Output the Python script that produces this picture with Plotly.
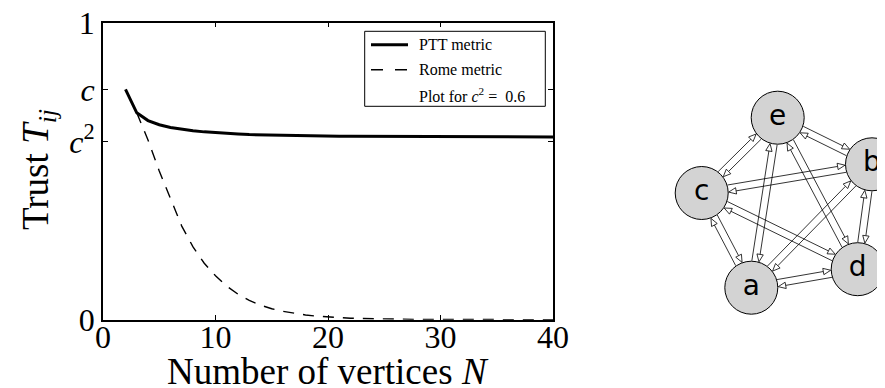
import math
import itertools
import plotly.graph_objects as go

# ---------------- data ----------------
c2 = 0.6
c = math.sqrt(c2)

ptt_N = list(range(2, 41))
ptt_T = [0.775, 0.696, 0.670, 0.656, 0.647, 0.641, 0.636, 0.632, 0.629, 0.627,
         0.625, 0.623, 0.622, 0.621, 0.620, 0.619, 0.619, 0.618, 0.618, 0.617,
         0.617, 0.617, 0.617, 0.617, 0.616, 0.616, 0.616, 0.616, 0.616, 0.616,
         0.616, 0.615, 0.615, 0.615, 0.615, 0.615, 0.615, 0.615, 0.615]

rome_N = list(range(3, 41))
rome_T = [0.696, 0.605, 0.500, 0.405, 0.315, 0.245, 0.190, 0.148, 0.113, 0.086,
          0.065, 0.049, 0.037, 0.028, 0.021, 0.016, 0.012, 0.009, 0.007, 0.005,
          0.004, 0.003, 0.002, 0.002, 0.001, 0.001, 0.001, 0.001, 0.000, 0.000,
          0.000, 0.000, 0.000, 0.000, 0.000, 0.000, 0.000, 0.000]

x_ticks = [0, 10, 20, 30, 40]
y_tickvals = [0, c2, c, 1]
y_ticktext = ["0", "<i>c</i><sup>2</sup>", "<i>c</i>", "1"]

# graph panel
node_names = ["a", "b", "c", "d", "e"]
edges = list(itertools.permutations(node_names, 2))  # complete digraph

# ---------------- layout helpers ----------------
W, H = 885, 388
def px(x):
    return x / W
def py(y):
    return 1 - y / H

SERIF = "Liberation Serif"

fig = go.Figure()

fig.add_trace(go.Scatter(x=ptt_N, y=ptt_T, mode="lines",
                         line=dict(color="black", width=3),
                         showlegend=False, xaxis="x", yaxis="y"))
fig.add_trace(go.Scatter(x=rome_N, y=rome_T, mode="lines",
                         line=dict(color="black", width=1.4, dash="11px,9px"),
                         showlegend=False, xaxis="x", yaxis="y"))

# ---------------- network panel ----------------
node_pos = {"e": (169.7, 200.3), "b": (264.0, 153.7), "c": (93.7, 125.0),
            "a": (143.3, 30.3), "d": (249.7, 48.8)}
R = 27.0
OFF = 3.6
AL, AW = 7.5, 3.2

lx, ly = [], []
shapes = []
for s, t in edges:
    x0, y0 = node_pos[s]
    x1, y1 = node_pos[t]
    dx, dy = x1 - x0, y1 - y0
    L = math.hypot(dx, dy)
    ux, uy = dx / L, dy / L
    nx, ny = -uy, ux
    a = math.sqrt(R * R - OFF * OFF)
    sx, sy = x0 + nx * OFF + ux * a, y0 + ny * OFF + uy * a
    tx, ty = x1 + nx * OFF - ux * a, y1 + ny * OFF - uy * a
    bx, by = tx - ux * AL, ty - uy * AL
    lx += [sx, bx, None]
    ly += [sy, by, None]
    p1 = (bx + nx * AW, by + ny * AW)
    p2 = (bx - nx * AW, by - ny * AW)
    shapes.append(dict(type="path", xref="x2", yref="y2",
                       path=f"M{tx},{ty} L{p1[0]},{p1[1]} L{p2[0]},{p2[1]} Z",
                       fillcolor="white", line=dict(color="black", width=0.8),
                       layer="above"))

fig.add_trace(go.Scatter(x=lx, y=ly, mode="lines",
                         line=dict(color="black", width=0.8),
                         showlegend=False, xaxis="x2", yaxis="y2", hoverinfo="skip"))
fig.add_trace(go.Scatter(x=[node_pos[n][0] for n in node_names],
                         y=[node_pos[n][1] for n in node_names],
                         mode="markers+text", text=node_names,
                         textposition="middle center",
                         textfont=dict(family="DejaVu Sans", size=28, color="black"),
                         marker=dict(size=53, color="#d3d3d3",
                                     line=dict(color="black", width=1)),
                         showlegend=False, xaxis="x2", yaxis="y2", hoverinfo="skip"))

# ---------------- custom legend ----------------
lg = dict(x0=356.7, x1=537.3, y0=23.3, y1=98.3)
shapes.append(dict(type="rect", xref="paper", yref="paper",
                   x0=px(lg["x0"]), x1=px(lg["x1"]), y0=py(lg["y1"]), y1=py(lg["y0"]),
                   line=dict(color="black", width=1), fillcolor="white", layer="above"))
shapes.append(dict(type="line", xref="paper", yref="paper",
                   x0=px(363), x1=px(400), y0=py(36.7), y1=py(36.7),
                   line=dict(color="black", width=3), layer="above"))
shapes.append(dict(type="line", xref="paper", yref="paper",
                   x0=px(363), x1=px(400), y0=py(61.7), y1=py(61.7),
                   line=dict(color="black", width=1.4, dash="12px,12px"), layer="above"))

annotations = []
for txt, yy in [("PTT metric", 36.7), ("Rome metric", 61.7),
                ("Plot for <i>c</i><sup>2</sup> =\u00a0 0.6", 86.7)]:
    annotations.append(dict(text=txt, xref="paper", yref="paper",
                            x=px(409), y=py(yy), xanchor="left", yanchor="middle",
                            showarrow=False,
                            font=dict(family=SERIF, size=16, color="black")))

annotations.append(dict(text="Number of vertices <i>N</i>", xref="paper", yref="paper",
                        x=px(320), y=py(363), xanchor="center", yanchor="middle",
                        showarrow=False, borderpad=0,
                        font=dict(family=SERIF, size=37, color="black")))
annotations.append(dict(text="Trust <i>T</i><sub><i>ij</i></sub>", xref="paper", yref="paper",
                        x=px(30), y=py(162), xanchor="center", yanchor="middle",
                        textangle=-90, showarrow=False, borderpad=0,
                        font=dict(family=SERIF, size=37, color="black")))

fig.update_layout(
    width=W, height=H,
    margin=dict(l=0, r=0, t=0, b=0),
    paper_bgcolor="white", plot_bgcolor="white",
    showlegend=False,
    xaxis=dict(domain=[px(95), px(545)], range=[0, 40], tickvals=x_ticks,
               ticks="inside", ticklen=5, tickwidth=1, tickcolor="black",
               showline=True, linewidth=1.8, linecolor="black", mirror="ticks",
               showgrid=False, zeroline=False, automargin=False,
               ticklabeloverflow="allow", ticklabelstandoff=-12,
               tickfont=dict(family=SERIF, size=32, color="black")),
    yaxis=dict(domain=[py(311.7), py(14.5)], range=[0, 1], tickvals=y_tickvals,
               ticktext=y_ticktext,
               ticks="inside", ticklen=5, tickwidth=1, tickcolor="black",
               showline=True, linewidth=1.8, linecolor="black", mirror="ticks",
               showgrid=False, zeroline=False, automargin=False,
               ticklabeloverflow="allow",
               tickfont=dict(family=SERIF, size=32, color="black")),
    xaxis2=dict(domain=[px(600), px(885)], range=[0, 285], visible=False,
                fixedrange=True),
    yaxis2=dict(domain=[py(310), py(70)], range=[0, 240], visible=False,
                fixedrange=True),
    shapes=shapes,
    annotations=annotations,
)

fig.write_html("out.html")
